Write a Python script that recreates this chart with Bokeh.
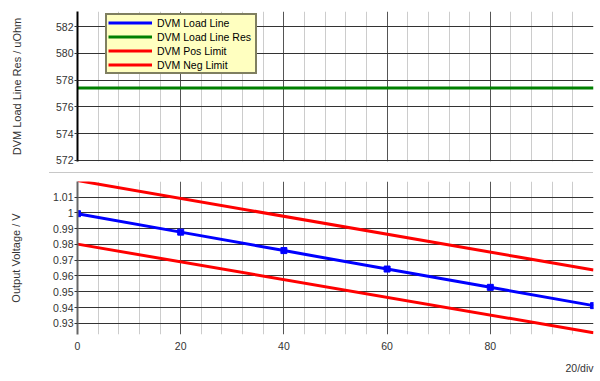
from bokeh.plotting import figure
from bokeh.layouts import column
from bokeh.models import Range1d, FixedTicker, Legend, LegendItem, Div, Title
from bokeh.embed import file_html
from bokeh.resources import INLINE

# ---- data ----
load_x = [0, 20, 40, 60, 80, 100]
load_line = [0.9995, 0.9878, 0.9761, 0.9644, 0.9528, 0.9412]
limit_x = [0, 100]
pos_limit = [1.0205, 0.9638]
neg_limit = [0.9802, 0.9240]
res_x = [0, 100]
load_line_res = [577.4, 577.4]

x_major = [0, 20, 40, 60, 80]
x_minor = [4, 8, 12, 16, 24, 28, 32, 36, 44, 48, 52, 56, 64, 68, 72, 76, 84, 88, 92, 96]
res_ticks = [572, 574, 576, 578, 580, 582]
volt_ticks = [0.93, 0.94, 0.95, 0.96, 0.97, 0.98, 0.99, 1.0, 1.01]
volt_labels = ["0.93", "0.94", "0.95", "0.96", "0.97", "0.98", "0.99", "1", "1.01"]
x_labels = ["0", "20", "40", "60", "80"]
x_unit_label = "20/div"

FONT = "Liberation Sans"
TXT = "#333333"

def style_common(p):
    p.outline_line_color = None
    p.background_fill_color = "white"
    p.border_fill_color = "white"
    p.xgrid.ticker = FixedTicker(ticks=x_major + [100], minor_ticks=x_minor)
    p.xgrid.grid_line_color = "#555555"
    p.xgrid.grid_line_width = 1
    p.xgrid.minor_grid_line_color = "#cccccc"
    p.xgrid.minor_grid_line_width = 1
    p.ygrid.grid_line_color = "#333333"
    p.ygrid.grid_line_width = 1
    p.yaxis.major_tick_in = 0
    p.yaxis.major_tick_out = 3
    p.yaxis.minor_tick_line_color = None
    p.yaxis.major_label_standoff = 1
    p.yaxis.major_label_text_font = FONT
    p.yaxis.major_label_text_font_size = "10.5px"
    p.yaxis.major_label_text_color = TXT
    p.yaxis.axis_label_text_font = FONT
    p.yaxis.axis_label_text_font_size = "11px"
    p.yaxis.axis_label_text_font_style = "normal"
    p.yaxis.axis_label_text_color = TXT

# ---- top figure ----
p1 = figure(width=596, height=172, output_backend="svg", toolbar_location=None,
            x_range=Range1d(0, 100), y_range=Range1d(571.92, 583.12),
            min_border_left=77, min_border_right=3, min_border_top=11, min_border_bottom=11)
style_common(p1)
p1.xaxis.visible = False
p1.yaxis.ticker = FixedTicker(ticks=res_ticks)
p1.yaxis.axis_label = "DVM Load Line Res / uOhm"
p1.yaxis.axis_label_standoff = 30
p1.yaxis.axis_line_color = "black"
p1.yaxis.axis_line_width = 2
p1.yaxis.major_tick_line_color = "#333333"
p1.ygrid.ticker = FixedTicker(ticks=res_ticks)

r_res = p1.line(res_x, load_line_res, line_color="#008000", line_width=3)
# voltage series also drawn in the top panel: they fall outside its range (only the legend shows them)
r_leg_load = p1.line(load_x, load_line, line_color="#0000ff", line_width=3)
r_leg_pos = p1.line(limit_x, pos_limit, line_color="#ff0000", line_width=3)
r_leg_neg = p1.line(limit_x, neg_limit, line_color="#ff0000", line_width=3)

legend = Legend(items=[
    LegendItem(label="DVM Load Line", renderers=[r_leg_load]),
    LegendItem(label="DVM Load Line Res", renderers=[r_res]),
    LegendItem(label="DVM Pos Limit", renderers=[r_leg_pos]),
    LegendItem(label="DVM Neg Limit", renderers=[r_leg_neg]),
], location=(28, 87))
legend.background_fill_color = "#ffffc0"
legend.background_fill_alpha = 1
legend.border_line_color = "black"
legend.border_line_width = 2
legend.label_text_font = FONT
legend.label_text_font_size = "10.5px"
legend.label_text_color = "black"
legend.glyph_width = 44
legend.glyph_height = 13
legend.label_height = 13
legend.label_width = 97
legend.label_standoff = 5
legend.spacing = 1
legend.padding = 1
legend.margin = 0
p1.add_layout(legend, "center")

# ---- separator ----
sep = Div(text="", width=544, height=1, margin=(0, 0, 0, 49),
          styles={"background-color": "#c8c8c8", "overflow": "hidden"})

# ---- bottom figure ----
p2 = figure(width=596, height=207, output_backend="svg", toolbar_location=None,
            x_range=Range1d(0, 100), y_range=Range1d(0.9229, 1.0199),
            min_border_left=77, min_border_right=3, min_border_top=8, min_border_bottom=46)
style_common(p2)
p2.yaxis.ticker = FixedTicker(ticks=volt_ticks)
p2.yaxis.major_label_overrides = {t: l for t, l in zip(volt_ticks, volt_labels)}
p2.yaxis.axis_label = "Output Voltage / V"
p2.yaxis.axis_label_standoff = 28
p2.yaxis.axis_line_color = "#666666"
p2.yaxis.axis_line_width = 2
p2.yaxis.major_tick_line_color = "#333333"
p2.ygrid.ticker = FixedTicker(ticks=volt_ticks)

p2.xaxis.ticker = FixedTicker(ticks=x_major)
p2.xaxis.major_label_overrides = {t: l for t, l in zip(x_major, x_labels)}
p2.xaxis.axis_line_color = None
p2.xaxis.major_tick_line_color = None
p2.xaxis.minor_tick_line_color = None
p2.xaxis.major_label_standoff = 1
p2.xaxis.major_label_text_font = FONT
p2.xaxis.major_label_text_font_size = "10.5px"
p2.xaxis.major_label_text_color = TXT

unit_title = Title(text=x_unit_label, align="right", text_font=FONT, text_font_size="10.5px",
                   text_font_style="normal", text_color=TXT, standoff=14)
p2.add_layout(unit_title, "below")

p2.line(limit_x, pos_limit, line_color="#ff0000", line_width=3)
p2.line(limit_x, neg_limit, line_color="#ff0000", line_width=3)
p2.line(load_x, load_line, line_color="#0000ff", line_width=3)
p2.scatter(load_x, load_line, marker="square", size=6, fill_color="#0000ff", line_color="#0000ff")

layout = column(p1, sep, p2)
open("out.html", "w").write(file_html(layout, INLINE))
